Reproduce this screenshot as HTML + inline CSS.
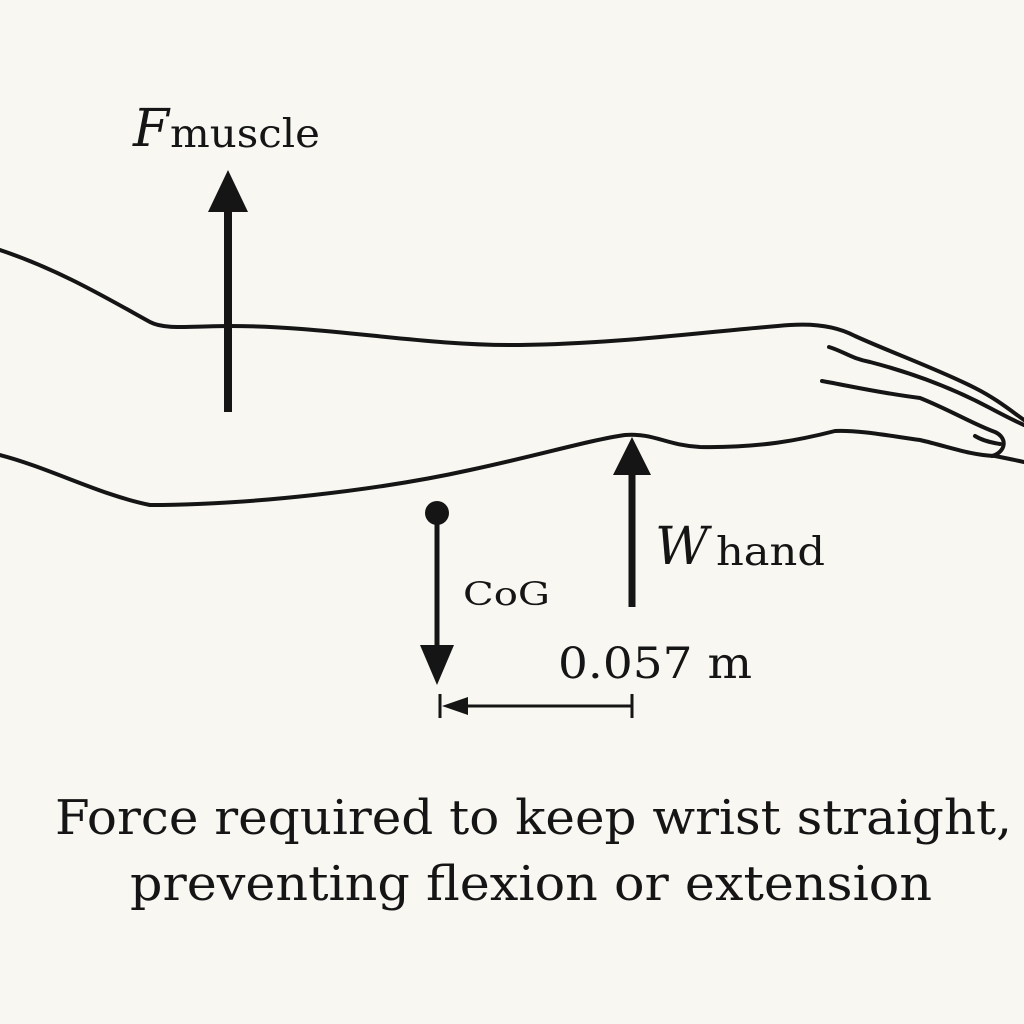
<!DOCTYPE html>
<html><head><style>
html,body{margin:0;padding:0;background:#f8f7f2;}
svg{display:block}
text{font-family:"DejaVu Serif","Liberation Serif",serif;fill:#151515}
</style></head><body>
<svg width="1024" height="1024" viewBox="0 0 1024 1024">
<rect width="1024" height="1024" fill="#f8f7f2"/>
<g fill="none" stroke="#151515" stroke-width="4" stroke-linecap="round" stroke-linejoin="round">
<path d="M0,250 C60,270 110,300 150,322 C165,330 190,326 230,326 C330,326 420,346 520,345 C620,344 720,330 790,325 C820,323 840,328 855,336 C890,352 940,370 975,388 C995,398 1010,410 1024,420"/>
<path d="M829,347 C845,352 850,358 870,362 C920,375 960,392 990,408 C1005,416 1015,421 1024,425"/>
<path d="M822,381 C850,386 880,393 920,398 C950,410 975,425 995,432 C1008,438 1006,452 992,456"/>
<path d="M975,436 C985,442 995,443 1000,444"/>
<path d="M0,455 C50,468 100,495 150,505 C250,505 380,490 470,470 C540,455 590,440 625,435 C655,433 665,445 700,447 C760,448 800,440 835,431 C860,430 890,436 920,440 C950,447 970,455 995,456 C1005,458 1015,460 1024,462"/>
</g>
<g>
<line x1="228" y1="412" x2="228" y2="205" stroke="#151515" stroke-width="8"/>
<polygon points="208,212 228,170 248,212" fill="#151515"/>
</g>
<g>
<line x1="632" y1="607" x2="632" y2="470" stroke="#151515" stroke-width="7"/>
<polygon points="613,475 632,437 651,475" fill="#151515"/>
</g>
<g>
<circle cx="437" cy="513" r="12" fill="#151515"/>
<line x1="437" y1="513" x2="437" y2="650" stroke="#151515" stroke-width="5"/>
<polygon points="420,645 437,685 454,645" fill="#151515"/>
</g>
<g stroke="#151515" stroke-width="3" fill="#151515">
<line x1="440" y1="694" x2="440" y2="718"/>
<line x1="632" y1="694" x2="632" y2="718"/>
<line x1="455" y1="706" x2="632" y2="706"/>
<polygon points="442,706 468,697 468,715" stroke="none"/>
</g>
<text x="133" y="146" font-size="52" font-style="italic">F</text>
<text x="170" y="147" font-size="39" textLength="150" lengthAdjust="spacingAndGlyphs">muscle</text>
<text x="655" y="564" font-size="52" font-style="italic">W</text>
<text x="716" y="565" font-size="39" textLength="109" lengthAdjust="spacingAndGlyphs">hand</text>
<text x="463" y="605" font-size="32" textLength="87" lengthAdjust="spacingAndGlyphs">CoG</text>
<text x="558" y="678" font-size="43" textLength="194" lengthAdjust="spacingAndGlyphs">0.057 m</text>
<text x="55" y="834" font-size="48" textLength="957" lengthAdjust="spacingAndGlyphs">Force required to keep wrist straight,</text>
<text x="130" y="900" font-size="48" textLength="802" lengthAdjust="spacingAndGlyphs">preventing flexion or extension</text>
</svg>
</body></html>
